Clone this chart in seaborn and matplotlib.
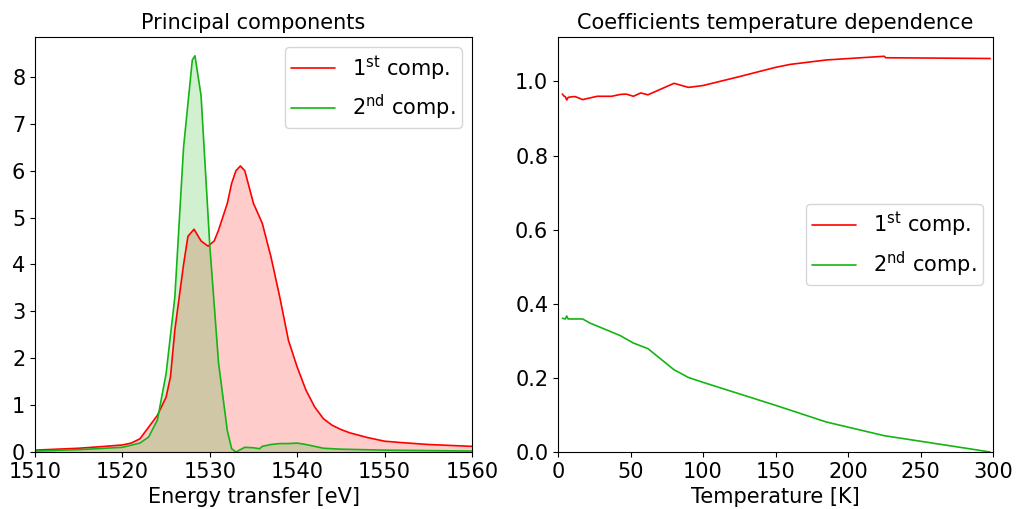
import numpy as np
import pandas as pd
import matplotlib
matplotlib.use("Agg")
import matplotlib.pyplot as plt
import seaborn as sns

# ---- Left panel: principal components ----
energy_c1 = [1510, 1515, 1518, 1520, 1521, 1522, 1523, 1524, 1525, 1525.5, 1526, 1527, 1527.5,
             1528.2, 1529, 1529.8, 1530.5, 1531, 1532, 1532.5, 1533, 1533.5, 1534, 1535, 1536,
             1537, 1538, 1539, 1540, 1541, 1542, 1543, 1544, 1545, 1546, 1548, 1550, 1552,
             1555, 1560]
comp1 = [0.04, 0.08, 0.12, 0.15, 0.19, 0.28, 0.53, 0.78, 1.17, 1.6, 2.6, 4.0, 4.6,
         4.75, 4.5, 4.39, 4.5, 4.73, 5.3, 5.73, 6.0, 6.1, 6.0, 5.3, 4.88,
         4.16, 3.31, 2.38, 1.81, 1.32, 0.96, 0.71, 0.57, 0.48, 0.41, 0.31, 0.23, 0.2,
         0.16, 0.12]

energy_c2 = [1510, 1515, 1520, 1522, 1523, 1524, 1525, 1526, 1527, 1528, 1528.3, 1529, 1530,
             1531, 1532, 1532.5, 1533, 1534, 1535, 1535.7, 1536, 1537, 1538, 1539, 1540,
             1541, 1542, 1543, 1545, 1550, 1560]
comp2 = [0.02, 0.05, 0.1, 0.19, 0.32, 0.68, 1.67, 3.3, 6.5, 8.36, 8.45, 7.6, 4.4,
         1.9, 0.46, 0.07, 0.0, 0.1, 0.09, 0.07, 0.12, 0.16, 0.18, 0.18, 0.19,
         0.16, 0.12, 0.08, 0.06, 0.04, 0.02]

# ---- Right panel: coefficients vs temperature ----
temp_c1 = [3, 4, 5, 6, 7, 10, 12, 17, 27, 37, 43, 47, 52, 57, 62, 80, 90, 100, 125, 150,
           160, 185, 225, 226, 298]
coef1 = [0.966, 0.961, 0.959, 0.950, 0.957, 0.959, 0.959, 0.951, 0.960, 0.960, 0.965, 0.966,
         0.960, 0.969, 0.964, 0.995, 0.984, 0.989, 1.013, 1.038, 1.046, 1.058, 1.068, 1.064,
         1.062]
temp_c2 = [3, 5, 6, 7, 17, 22, 27, 43, 52, 62, 80, 90, 100, 150, 185, 225, 280, 298]
coef2 = [0.361, 0.359, 0.367, 0.359, 0.359, 0.348, 0.340, 0.314, 0.294, 0.279, 0.222, 0.201,
         0.188, 0.126, 0.081, 0.044, 0.011, 0.0]

labels = ["1$^{\\rm st}$ comp.", "2$^{\\rm nd}$ comp."]
RED = "#ff0000"
GREEN = "#14b414"

sns.set_style("ticks")
plt.rcParams["font.family"] = ["DejaVu Sans"]
plt.rcParams["axes.edgecolor"] = "black"
plt.rcParams["xtick.color"] = "black"
plt.rcParams["ytick.color"] = "black"
plt.rcParams["text.color"] = "black"
plt.rcParams["axes.labelcolor"] = "black"
plt.rcParams["mathtext.default"] = "regular"

FS = 15

fig = plt.figure(figsize=(10.16, 5.09), dpi=100)
ax1 = fig.add_axes([35/1016, 1-452/509, (472-35)/1016, (452-37)/509])
ax2 = fig.add_axes([558/1016, 1-452/509, (993-558)/1016, (452-37)/509])

df1 = pd.DataFrame({"E": energy_c1, "v": comp1})
df2 = pd.DataFrame({"E": energy_c2, "v": comp2})
sns.lineplot(data=df1, x="E", y="v", ax=ax1, color=RED, lw=1.2, label=labels[0],
             estimator=None, sort=False)
sns.lineplot(data=df2, x="E", y="v", ax=ax1, color=GREEN, lw=1.2, label=labels[1],
             estimator=None, sort=False)
ax1.fill_between(energy_c1, comp1, color=RED, alpha=0.2, lw=0)
ax1.fill_between(energy_c2, comp2, color=GREEN, alpha=0.2, lw=0)
ax1.set_xlim(1510, 1560)
ax1.set_ylim(0, 8.85)
ax1.set_title("Principal components", fontsize=FS)
ax1.set_xlabel("Energy transfer [eV]", fontsize=FS)
ax1.set_ylabel("")
ax1.tick_params(labelsize=FS)
ax1.legend(loc="upper right", fontsize=FS, borderpad=0.3, handlelength=2.1)

dt1 = pd.DataFrame({"T": temp_c1, "v": coef1})
dt2 = pd.DataFrame({"T": temp_c2, "v": coef2})
sns.lineplot(data=dt1, x="T", y="v", ax=ax2, color=RED, lw=1.2, label=labels[0],
             estimator=None, sort=False)
sns.lineplot(data=dt2, x="T", y="v", ax=ax2, color=GREEN, lw=1.2, label=labels[1],
             estimator=None, sort=False)
ax2.set_xlim(0, 300)
ax2.set_ylim(0, 1.12)
ax2.set_title("Coefficients temperature dependence", fontsize=FS)
ax2.set_xlabel("Temperature [K]", fontsize=FS)
ax2.set_ylabel("")
ax2.tick_params(labelsize=FS)
ax2.legend(loc="center right", fontsize=FS, borderpad=0.3, handlelength=2.1)

fig.savefig("out.png", dpi=100)
